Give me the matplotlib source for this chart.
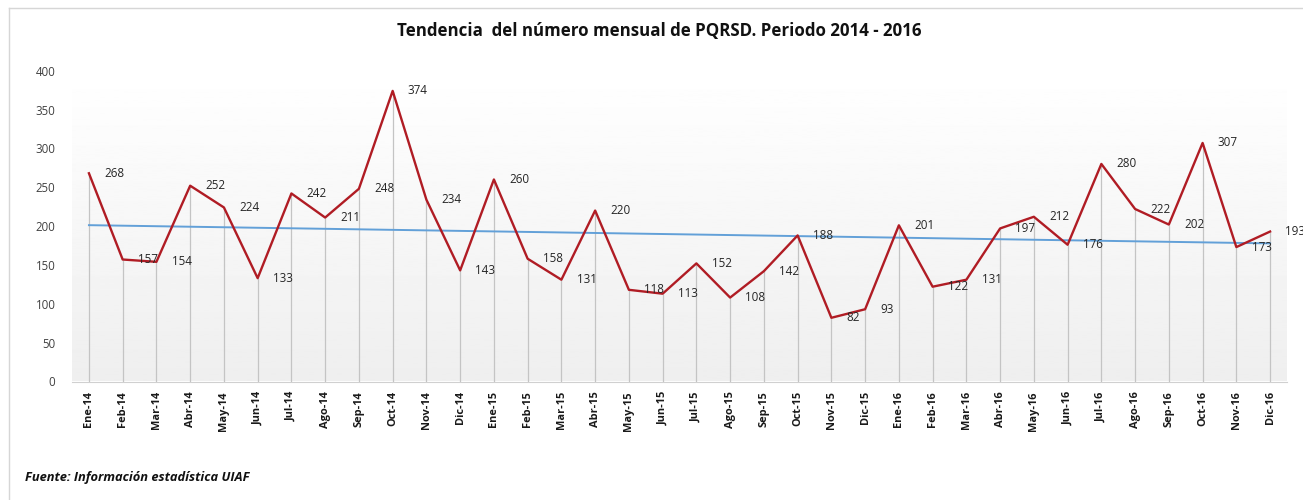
import numpy as np
import matplotlib.pyplot as plt
from matplotlib.lines import Line2D

# Monthly PQRSD counts, Jan 2014 - Dec 2016
meses = ["Ene-14", "Feb-14", "Mar-14", "Abr-14", "May-14", "Jun-14",
         "Jul-14", "Ago-14", "Sep-14", "Oct-14", "Nov-14", "Dic-14",
         "Ene-15", "Feb-15", "Mar-15", "Abr-15", "May-15", "Jun-15",
         "Jul-15", "Ago-15", "Sep-15", "Oct-15", "Nov-15", "Dic-15",
         "Ene-16", "Feb-16", "Mar-16", "Abr-16", "May-16", "Jun-16",
         "Jul-16", "Ago-16", "Sep-16", "Oct-16", "Nov-16", "Dic-16"]
pqrsd = [268, 157, 154, 252, 224, 133, 242, 211, 248, 374, 234, 143,
         260, 158, 131, 220, 118, 113, 152, 108, 142, 188, 82, 93,
         201, 122, 131, 197, 212, 176, 280, 222, 202, 307, 173, 193]
y_ticks = [0, 50, 100, 150, 200, 250, 300, 350, 400]

plt.rcParams["font.family"] = ["Open Sans", "DejaVu Sans"]

fig = plt.figure(figsize=(13.03, 5.0), dpi=100)
ax = fig.add_axes([0.0553, 0.237, 0.9324, 0.6216])

x = np.arange(len(pqrsd))
y = np.array(pqrsd)

# gradient background of the plot area
grad = np.linspace(1.0, 0.935, 256).reshape(-1, 1)
ax.imshow(grad, cmap="gray", vmin=0, vmax=1, aspect="auto",
          extent=(-0.5, len(x) - 0.5, 0, 400), origin="upper", zorder=0)

# drop lines
ax.vlines(x, 0, y, color="#c4c4c4", lw=0.9, zorder=1)

# series line
ax.plot(x, y, color="#b01c24", lw=1.7, zorder=3)

# linear trend
coef = np.polyfit(x, y, 1)
ax.plot(x, np.polyval(coef, x), color="#62a0d8", lw=1.4, zorder=2)

for xi, yi in zip(x, y):
    ax.annotate(str(yi), (xi, yi), xytext=(11, 0), textcoords="offset points",
                ha="left", va="center", fontsize=8.4, color="#262626",
                zorder=4, annotation_clip=False)

ax.set_xlim(-0.5, len(x) - 0.5)
ax.set_ylim(0, 400)
ax.set_yticks(y_ticks)
ax.set_xticks(x)
ax.set_xticklabels(meses, rotation=90, fontweight="bold", fontsize=7.9)
ax.tick_params(axis="y", length=0, labelsize=8.3, labelcolor="#404040", pad=12)
ax.tick_params(axis="x", length=0, pad=7, labelcolor="#1a1a1a")
for side in ["top", "right", "left"]:
    ax.spines[side].set_visible(False)
ax.spines["bottom"].set_color("#d0d0d0")

fig.text(0.506, 0.938, "Tendencia  del número mensual de PQRSD. Periodo 2014 - 2016",
         ha="center", va="center", fontsize=12.2, fontweight="bold", color="#111111")
fig.text(0.019, 0.046, "Fuente: Información estadística UIAF", ha="left", va="center",
         fontsize=9.3, fontweight="bold", fontstyle="italic", color="#111111")

# outer frame of the chart
fig.add_artist(Line2D([0.007, 1.0], [0.984, 0.984], transform=fig.transFigure,
                      color="#d6d6d6", lw=1.0))
fig.add_artist(Line2D([0.007, 0.007], [0.0, 0.984], transform=fig.transFigure,
                      color="#d6d6d6", lw=1.0))

fig.savefig("out.png", dpi=100)
